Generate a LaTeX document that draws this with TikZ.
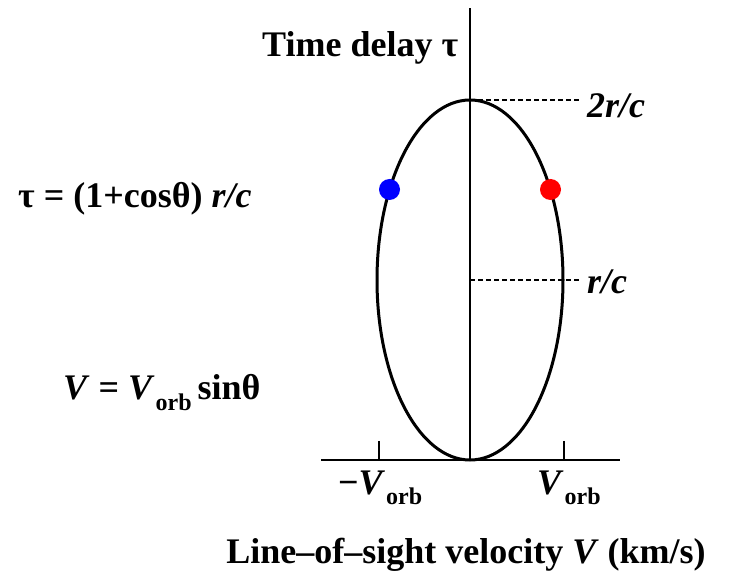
\documentclass[tikz,border=0pt]{standalone}
\usepackage{fontspec}
\setmainfont{Liberation Serif}
\usetikzlibrary{calc}
\definecolor{dotBlue}{HTML}{0000FF}
\definecolor{dotRed}{HTML}{FF0000}
\newcommand{\Vorb}{\textit{V}\kern1pt\raisebox{-10pt}{\fontsize{24}{24}\selectfont orb}}

\begin{document}
\begin{tikzpicture}[x=1pt,y=-1pt,
  lbl/.style={inner sep=0pt,font=\fontsize{36}{40}\selectfont\bfseries},
  axis/.style={line width=1.5pt},
  orbit/.style={line width=3pt},
  guide/.style={line width=1.4pt,dash pattern=on 5pt off 3pt,shorten >=7pt},
  dot/.style={circle,inner sep=0pt,minimum size=21pt}]
\useasboundingbox (0,0) rectangle (732,572);
% axes
\coordinate (origin) at (470,460);
\coordinate (ytop) at (470,8);
\coordinate (xleft) at (321,460);
\coordinate (xright) at (620,460);
\draw[axis] (origin) -- (ytop);
\draw[axis] (xleft) -- (xright);
\coordinate (tickl) at (379,441);
\coordinate (tickr) at (564,441);
\draw[axis] (tickl) -- (tickl |- origin);
\draw[axis] (tickr) -- (tickr |- origin);
% orbit
\coordinate (top) at (470,100);
\coordinate (mid) at (470,280);
\draw[orbit] (mid) ellipse [x radius=93,y radius=180];
\node[dot,fill=dotBlue] (blue) at (389.5,189.5) {};
\node[dot,fill=dotRed] (red) at (550.5,189.5) {};
% delay marks
\node[lbl,anchor=base west] (delay) at (262,57) {Time delay τ};
\node[lbl,anchor=west] (twoRC) at (587,106) {\textit{2r/c}};
\node[lbl,anchor=west] (oneRC) at (587,282) {\textit{r/c}};
\draw[guide] (top) -- (top -| twoRC.west);
\draw[guide] (mid) -- (mid -| oneRC.west);
% formulas and velocity axis
\node[lbl,anchor=base west] (tauEq) at (18,208) {τ = (1+cosθ) \textit{r/c}};
\node[lbl,anchor=base west] (vEq) at (63,400) {\textit{V} = \Vorb\,sinθ};
\node[lbl,anchor=base west] (vmin) at (338,494) {−\Vorb};
\node[lbl,anchor=base west] (vmax) at (537,494) {\Vorb};
\node[lbl,anchor=base] (xlabel) at (466,563) {Line–of–sight velocity \textit{V} (km/s)};
\end{tikzpicture}
\end{document}
